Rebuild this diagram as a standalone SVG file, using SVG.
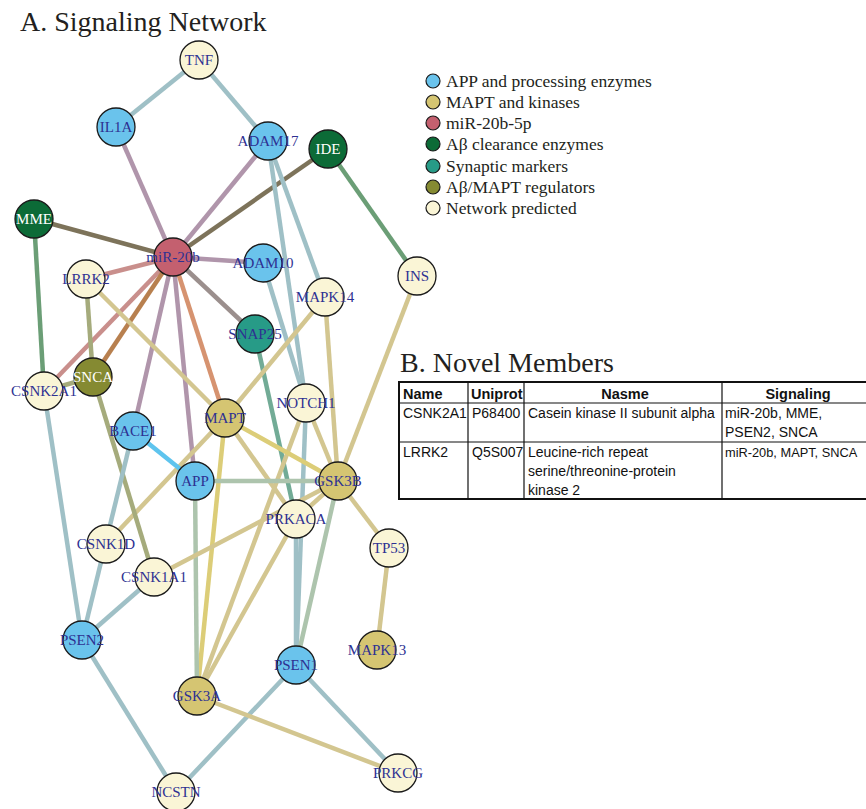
<svg xmlns="http://www.w3.org/2000/svg" width="866" height="809" viewBox="0 0 866 809">
<style>
.title{font-family:"Liberation Serif",serif;font-size:28px;fill:#231f20}
.e{stroke-width:4.5;fill:none;stroke-linecap:butt}
.bg{stroke:#9fc0c6}.mv{stroke:#b095ab}.ob{stroke:#7d735a}.gr{stroke:#6b9e76}
.pk{stroke:#c98f8c}.br{stroke:#b8804f}.or{stroke:#d69370}.gy{stroke:#9b8f8d}
.tn{stroke:#d3c690}.yl{stroke:#dccd78}.sg{stroke:#adc4ad}.tl{stroke:#72ab96}
.bb{stroke:#5ec4ee}.ol{stroke:#a5ab7c}
.n circle{stroke:#1a1a1a;stroke-width:1.3}
.n text{font-family:"Liberation Serif",serif;font-size:15px;fill:#2e3192;text-anchor:middle}
.n text.w{fill:#ffffff}
.blue{fill:#6ac3ec}.tan{fill:#d5c572}.mir{fill:#c4606f}.dg{fill:#0c6b37}
.teal{fill:#279b87}.olv{fill:#858a32}.crm{fill:#faf5d6}
.lg circle{stroke:#1a1a1a;stroke-width:1.2}
.lg text{font-family:"Liberation Serif",serif;font-size:17.5px;fill:#231f20}
.tb text{font-family:"Liberation Sans",sans-serif;font-size:14px;fill:#111}
.tb text.h{font-weight:bold;font-size:14.5px}
</style>
<text class="title" x="20" y="31">A. Signaling Network</text>
<text class="title" x="400" y="372">B. Novel Members</text>

<g id="connectors">
<line class="e bg" x1="199" y1="60" x2="116" y2="127"/>
<line class="e bg" x1="199" y1="60" x2="268" y2="141"/>
<line class="e mv" x1="116" y1="127" x2="173" y2="257"/>
<line class="e mv" x1="268" y1="141" x2="173" y2="257"/>
<line class="e ob" x1="328" y1="149" x2="173" y2="257"/>
<line class="e ob" x1="34" y1="219" x2="173" y2="257"/>
<line class="e gr" x1="328" y1="149" x2="417" y2="276"/>
<line class="e gr" x1="34" y1="219" x2="44" y2="391"/>
<line class="e mv" x1="173" y1="257" x2="263" y2="263"/>
<line class="e pk" x1="173" y1="257" x2="86" y2="279"/>
<line class="e pk" x1="173" y1="257" x2="44" y2="391"/>
<line class="e br" x1="173" y1="257" x2="93" y2="377"/>
<line class="e mv" x1="173" y1="257" x2="133" y2="431"/>
<line class="e mv" x1="173" y1="257" x2="195" y2="481"/>
<line class="e or" x1="173" y1="257" x2="225" y2="418"/>
<line class="e gy" x1="173" y1="257" x2="255" y2="334"/>
<line class="e bg" x1="268" y1="141" x2="306" y2="403"/>
<line class="e bg" x1="268" y1="141" x2="325" y2="297"/>
<line class="e bg" x1="263" y1="263" x2="306" y2="403"/>
<line class="e bg" x1="306" y1="403" x2="296" y2="665"/>
<line class="e bg" x1="296" y1="519" x2="296" y2="665"/>
<line class="e tl" x1="255" y1="334" x2="296" y2="519"/>
<line class="e tn" x1="325" y1="297" x2="338" y2="481"/>
<line class="e tn" x1="325" y1="297" x2="225" y2="418"/>
<line class="e tn" x1="417" y1="276" x2="338" y2="481"/>
<line class="e tn" x1="306" y1="403" x2="338" y2="481"/>
<line class="e tn" x1="306" y1="403" x2="197" y2="696"/>
<line class="e tn" x1="86" y1="279" x2="225" y2="418"/>
<line class="e tn" x1="225" y1="418" x2="296" y2="519"/>
<line class="e tn" x1="225" y1="418" x2="106" y2="544"/>
<line class="e yl" x1="225" y1="418" x2="338" y2="481"/>
<line class="e yl" x1="225" y1="418" x2="197" y2="696"/>
<line class="e ol" x1="86" y1="279" x2="93" y2="377"/>
<line class="e ol" x1="44" y1="391" x2="93" y2="377"/>
<line class="e ol" x1="93" y1="377" x2="154" y2="577"/>
<line class="e bb" x1="133" y1="431" x2="195" y2="481"/>
<line class="e sg" x1="195" y1="481" x2="338" y2="481"/>
<line class="e sg" x1="195" y1="481" x2="197" y2="696"/>
<line class="e sg" x1="338" y1="481" x2="296" y2="665"/>
<line class="e tn" x1="338" y1="481" x2="296" y2="519"/>
<line class="e tn" x1="338" y1="481" x2="154" y2="577"/>
<line class="e tn" x1="338" y1="481" x2="389" y2="548"/>
<line class="e tn" x1="389" y1="548" x2="377" y2="650"/>
<line class="e tn" x1="296" y1="519" x2="197" y2="696"/>
<line class="e bg" x1="133" y1="431" x2="82" y2="640"/>
<line class="e bg" x1="44" y1="391" x2="82" y2="640"/>
<line class="e bg" x1="154" y1="577" x2="82" y2="640"/>
<line class="e bg" x1="82" y1="640" x2="176" y2="792"/>
<line class="e bg" x1="296" y1="665" x2="176" y2="792"/>
<line class="e bg" x1="296" y1="665" x2="398" y2="773"/>
<line class="e tn" x1="197" y1="696" x2="398" y2="773"/>
</g>

<g class="n" id="TNF"><circle class="crm" cx="199" cy="60" r="19"/><text x="199" y="65">TNF</text></g>
<g class="n" id="IL1A"><circle class="blue" cx="116" cy="127" r="19"/><text x="116" y="132">IL1A</text></g>
<g class="n" id="ADAM17"><circle class="blue" cx="268" cy="141" r="19"/><text x="268" y="146">ADAM17</text></g>
<g class="n" id="IDE"><circle class="dg" cx="328" cy="149" r="19"/><text class="w" x="328" y="154">IDE</text></g>
<g class="n" id="MME"><circle class="dg" cx="34" cy="219" r="19"/><text class="w" x="34" y="224">MME</text></g>
<g class="n" id="miR-20b"><circle class="mir" cx="173" cy="257" r="19"/><text x="173" y="262">miR-20b</text></g>
<g class="n" id="ADAM10"><circle class="blue" cx="263" cy="263" r="19"/><text x="263" y="268">ADAM10</text></g>
<g class="n" id="LRRK2"><circle class="crm" cx="86" cy="279" r="19"/><text x="86" y="284">LRRK2</text></g>
<g class="n" id="INS"><circle class="crm" cx="417" cy="276" r="19"/><text x="417" y="281">INS</text></g>
<g class="n" id="MAPK14"><circle class="crm" cx="325" cy="297" r="19"/><text x="325" y="302">MAPK14</text></g>
<g class="n" id="SNAP25"><circle class="teal" cx="255" cy="334" r="19"/><text x="255" y="339">SNAP25</text></g>
<g class="n" id="SNCA"><circle class="olv" cx="93" cy="377" r="19"/><text class="w" x="93" y="382">SNCA</text></g>
<g class="n" id="CSNK2A1"><circle class="crm" cx="44" cy="391" r="19"/><text x="44" y="396">CSNK2A1</text></g>
<g class="n" id="NOTCH1"><circle class="crm" cx="306" cy="403" r="19"/><text x="306" y="408">NOTCH1</text></g>
<g class="n" id="MAPT"><circle class="tan" cx="225" cy="418" r="19"/><text x="225" y="423">MAPT</text></g>
<g class="n" id="BACE1"><circle class="blue" cx="133" cy="431" r="19"/><text x="133" y="436">BACE1</text></g>
<g class="n" id="APP"><circle class="blue" cx="195" cy="481" r="19"/><text x="195" y="486">APP</text></g>
<g class="n" id="GSK3B"><circle class="tan" cx="338" cy="481" r="19"/><text x="338" y="486">GSK3B</text></g>
<g class="n" id="PRKACA"><circle class="crm" cx="296" cy="519" r="19"/><text x="296" y="524">PRKACA</text></g>
<g class="n" id="TP53"><circle class="crm" cx="389" cy="548" r="19"/><text x="389" y="553">TP53</text></g>
<g class="n" id="CSNK1D"><circle class="crm" cx="106" cy="544" r="19"/><text x="106" y="549">CSNK1D</text></g>
<g class="n" id="CSNK1A1"><circle class="crm" cx="154" cy="577" r="19"/><text x="154" y="582">CSNK1A1</text></g>
<g class="n" id="PSEN2"><circle class="blue" cx="82" cy="640" r="19"/><text x="82" y="645">PSEN2</text></g>
<g class="n" id="MAPK13"><circle class="tan" cx="377" cy="650" r="19"/><text x="377" y="655">MAPK13</text></g>
<g class="n" id="PSEN1"><circle class="blue" cx="296" cy="665" r="19"/><text x="296" y="670">PSEN1</text></g>
<g class="n" id="GSK3A"><circle class="tan" cx="197" cy="696" r="19"/><text x="197" y="701">GSK3A</text></g>
<g class="n" id="PRKCG"><circle class="crm" cx="398" cy="773" r="19"/><text x="398" y="778">PRKCG</text></g>
<g class="n" id="NCSTN"><circle class="crm" cx="176" cy="792" r="19"/><text x="176" y="797">NCSTN</text></g>

<g class="lg" id="legend">
<circle class="blue" cx="433" cy="81" r="7"/><text x="446" y="87">APP and processing enzymes</text>
<circle class="tan" cx="433" cy="102" r="7"/><text x="446" y="108">MAPT and kinases</text>
<circle class="mir" cx="433" cy="123" r="7"/><text x="446" y="129">miR-20b-5p</text>
<circle class="dg" cx="433" cy="144" r="7"/><text x="446" y="150">Aβ clearance enzymes</text>
<circle class="teal" cx="433" cy="166" r="7"/><text x="446" y="172">Synaptic markers</text>
<circle class="olv" cx="433" cy="187" r="7"/><text x="446" y="193">Aβ/MAPT regulators</text>
<circle class="crm" cx="433" cy="208" r="7"/><text x="446" y="214">Network predicted</text>
</g>

<g class="tb" id="table">
<line x1="399" y1="403" x2="875" y2="403" stroke="#111" stroke-width="1.2"/>
<line x1="399" y1="442" x2="875" y2="442" stroke="#111" stroke-width="1.2"/>
<line x1="468" y1="382" x2="468" y2="499" stroke="#111" stroke-width="1.2"/>
<line x1="524" y1="382" x2="524" y2="499" stroke="#111" stroke-width="1.2"/>
<line x1="722" y1="382" x2="722" y2="499" stroke="#111" stroke-width="1.2"/>
<rect x="399" y="382" width="476" height="117" fill="none" stroke="#111" stroke-width="2"/>
<text class="h" x="403" y="399">Name</text>
<text class="h" x="471" y="399">Uniprot</text>
<text class="h" x="625" y="399" text-anchor="middle">Nasme</text>
<text class="h" x="798" y="399" text-anchor="middle">Signaling</text>
<text x="403" y="418">CSNK2A1</text>
<text x="472" y="418">P68400</text>
<text x="528" y="418">Casein kinase II subunit alpha</text>
<text x="725" y="418">miR-20b, MME,</text>
<text x="725" y="437">PSEN2, SNCA</text>
<text x="403" y="457">LRRK2</text>
<text x="472" y="457">Q5S007</text>
<text x="528" y="457">Leucine-rich repeat</text>
<text x="528" y="476">serine/threonine-protein</text>
<text x="528" y="495">kinase 2</text>
<text x="725" y="457" style="font-size:12.8px">miR-20b, MAPT, SNCA</text>
</g>
</svg>
